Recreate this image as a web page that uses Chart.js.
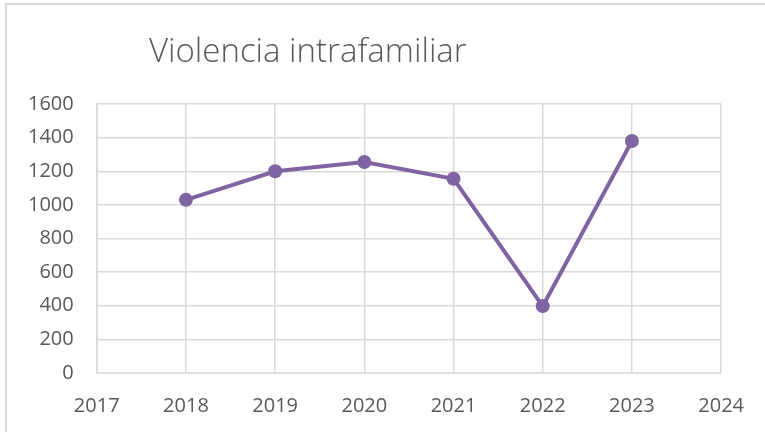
<!DOCTYPE html>
<html lang="es">
<head>
    <meta charset="UTF-8">
    <title>Violencia intrafamiliar</title>
    <script src="https://cdn.jsdelivr.net/npm/chart.js@4.4.1/dist/chart.umd.min.js"></script>
    <style>
        html, body { margin: 0; padding: 0; background: #fff; overflow: hidden; }
        .frame {
            position: absolute; left: 5px; top: 3px;
            width: 800px; height: 460px;
            border: 2px solid #d9d9d9;
        }
        .wrap { position: absolute; left: 0; top: 0; width: 765px; height: 432px; overflow: hidden; }
    </style>
</head>
<body>
    <div class="frame"></div>
    <div class="wrap"><canvas id="myChart" width="765" height="440"></canvas></div>
    <script>
        // data
        var titleText = 'Violencia intrafamiliar';
        var years = [2018, 2019, 2020, 2021, 2022, 2023];
        var cases = [1030, 1200, 1255, 1155, 398, 1380];
        var xMin = 2017, xMax = 2024;
        var yMin = 0, yMax = 1600, yStep = 200;

        var points = [];
        for (var i = 0; i < years.length; i++) {
            points.push({ x: years[i], y: cases[i] });
        }

        // title drawn a bit left of centre, like the spreadsheet one
        var leftTitle = {
            id: 'leftTitle',
            afterDraw: function (chart) {
                var ctx = chart.ctx;
                ctx.save();
                ctx.font = '300 33px "Open Sans"';
                ctx.fillStyle = '#595959';
                ctx.textBaseline = 'alphabetic';
                ctx.textAlign = 'left';
                ctx.fillText(titleText, 149, 62);
                ctx.restore();
            }
        };

        var ctx = document.getElementById('myChart').getContext('2d');
        var myChart = new Chart(ctx, {
            type: 'line',
            data: {
                datasets: [{
                    label: titleText,
                    data: points,
                    borderColor: '#8064a2',
                    backgroundColor: '#8064a2',
                    borderWidth: 4,
                    pointRadius: 7,
                    pointHoverRadius: 7,
                    pointBorderWidth: 0,
                    tension: 0,
                    fill: false
                }]
            },
            options: {
                responsive: false,
                animation: false,
                devicePixelRatio: 1,
                layout: { padding: { left: 5, right: 36, top: 104, bottom: 1 } },
                plugins: {
                    legend: { display: false },
                    title: { display: false },
                    tooltip: { enabled: false }
                },
                scales: {
                    x: {
                        type: 'linear',
                        min: xMin,
                        max: xMax,
                        grid: { color: '#d9d9d9', lineWidth: 1.5, drawTicks: false },
                        border: { color: '#d9d9d9', width: 1.5 },
                        ticks: {
                            stepSize: 1,
                            padding: 21,
                            color: '#595959',
                            font: { family: '"Open Sans"', size: 20 },
                            callback: function (v) { return String(v); },
                            maxRotation: 0
                        }
                    },
                    y: {
                        min: yMin,
                        max: yMax,
                        grid: { color: '#d9d9d9', lineWidth: 1.5, drawTicks: false },
                        border: { color: '#d9d9d9', width: 1.5 },
                        ticks: {
                            stepSize: yStep,
                            padding: 23,
                            color: '#595959',
                            font: { family: '"Open Sans"', size: 20 },
                            callback: function (v) { return String(v); }
                        }
                    }
                }
            },
            plugins: [leftTitle]
        });
    </script>
</body>
</html>
